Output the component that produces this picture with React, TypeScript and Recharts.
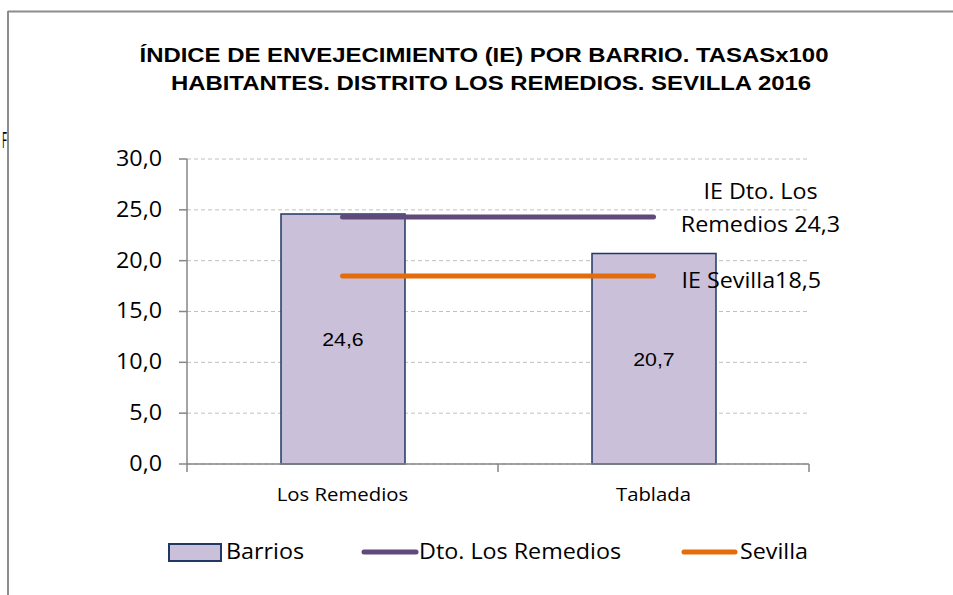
import React from "react";
import {
  Bar,
  CartesianGrid,
  ComposedChart,
  LabelList,
  Line,
  XAxis,
  YAxis
} from "recharts";

// Barrios del distrito Los Remedios, Sevilla 2016
const barrios = ["Los Remedios", "Tablada"];
const indiceBarrio = [24.6, 20.7];
const indiceDistrito = [24.3, 24.3];
const indiceSevilla = [18.5, 18.5];
const yTicks = [0, 5, 10, 15, 20, 25, 30];
const xTicks = [0, 0.5, 1, 1.5, 2];

const BAR_FILL = "#cbc0da";
const BAR_STROKE = "#1f3864";
const DTO_COLOR = "#604a7b";
const SEV_COLOR = "#e46c0a";
const AXIS_COLOR = "#868686";
const FONT = "'Open Sans', 'Noto Sans', sans-serif";
const ARIAL = "'Liberation Sans', Arial, sans-serif";

const data = barrios.map((name, i) => ({
  pos: i + 0.5,
  name,
  barrio: indiceBarrio[i],
  dto: indiceDistrito[i],
  sevilla: indiceSevilla[i]
}));

const fmt = (v: number) => v.toFixed(1).replace(".", ",");

// the reference text is a bit wider than our fonts, stretch it horizontally around x
const stretch = (x: number, k = 1.11) => `translate(${x} 0) scale(${k} 1) translate(${-x} 0)`;

function XTick(props: any) {
  const { x, y, payload } = props;
  const v = payload.value as number;
  if (Number.isInteger(v)) {
    return <line x1={x} x2={x} y1={y} y2={y + 8} stroke={AXIS_COLOR} strokeWidth={1.5} />;
  }
  const idx = Math.floor(v);
  return (
    <text x={x} y={y + 37} textAnchor="middle" fontFamily={FONT} fontSize={18} fill="#000" transform={stretch(x, 1.13)}>
      {barrios[idx]}
    </text>
  );
}

function YTick(props: any) {
  const { x, y, payload } = props;
  return (
    <text x={x} y={y + 7} textAnchor="end" fontFamily={FONT} fontSize={21} fill="#000" transform={stretch(x)}>
      {fmt(payload.value)}
    </text>
  );
}

function BarValue(props: any) {
  const { x, y, width, height, value } = props;
  const cx = x + width / 2;
  return (
    <text x={cx} y={y + height / 2 + 7} textAnchor="middle" fontFamily={ARIAL} fontSize={19} fill="#000" transform={stretch(cx, 1.12)}>
      {fmt(Number(value))}
    </text>
  );
}

function DtoLabel(props: any) {
  const { x, y, index, value } = props;
  if (index !== 1) return null;
  const cx = x + 107;
  return (
    <text x={cx} textAnchor="middle" fontFamily={FONT} fontSize={21} fill="#000" transform={stretch(cx)}>
      <tspan x={cx} y={y - 18}>IE Dto. Los</tspan>
      <tspan x={cx} y={y + 15}>{`Remedios ${fmt(value)}`}</tspan>
    </text>
  );
}

function SevillaLabel(props: any) {
  const { x, y, index, value } = props;
  if (index !== 1) return null;
  return (
    <text x={x + 28} y={y + 12} fontFamily={FONT} fontSize={21} fill="#000" transform={stretch(x + 28)}>
      {`IE Sevilla${fmt(value)}`}
    </text>
  );
}

export default function App() {
  return (
    <div style={{ position: "absolute", left: 0, top: 0, width: 953, height: 595, background: "#fff", overflow: "hidden" }}>
      <ComposedChart
        width={953}
        height={595}
        data={data}
        margin={{ top: 159, right: 144, bottom: 91, left: 107 }}
      >
        <CartesianGrid vertical={false} stroke="#c0c0c0" strokeDasharray="4 3" />
        <XAxis
          dataKey="pos"
          type="number"
          domain={[0, 2]}
          ticks={xTicks}
          interval={0}
          height={40}
          tickSize={0}
          tickMargin={0}
          tickLine={false}
          tick={<XTick />}
          axisLine={{ stroke: AXIS_COLOR, strokeWidth: 1.5 }}
        />
        <YAxis
          domain={[0, 30]}
          ticks={yTicks}
          interval={0}
          width={80}
          tickSize={8}
          tickMargin={17}
          tick={<YTick />}
          tickLine={{ stroke: AXIS_COLOR, strokeWidth: 1.5 }}
          axisLine={{ stroke: AXIS_COLOR, strokeWidth: 1.5 }}
        />
        <Bar dataKey="barrio" barSize={124} fill={BAR_FILL} stroke={BAR_STROKE} strokeWidth={1.5} isAnimationActive={false}>
          <LabelList dataKey="barrio" content={<BarValue />} />
        </Bar>
        <Line
          dataKey="dto"
          stroke={DTO_COLOR}
          strokeWidth={5}
          strokeLinecap="round"
          dot={false}
          activeDot={false}
          isAnimationActive={false}
        >
          <LabelList dataKey="dto" content={<DtoLabel />} />
        </Line>
        <Line
          dataKey="sevilla"
          stroke={SEV_COLOR}
          strokeWidth={5}
          strokeLinecap="round"
          dot={false}
          activeDot={false}
          isAnimationActive={false}
        >
          <LabelList dataKey="sevilla" content={<SevillaLabel />} />
        </Line>
      </ComposedChart>

      <svg width={953} height={595} style={{ position: "absolute", left: 0, top: 0, pointerEvents: "none" }}>
        <line x1={8} x2={953} y1={11.5} y2={11.5} stroke="#8c8c8c" strokeWidth={2} />
        <line x1={8} x2={8} y1={11} y2={595} stroke="#8c8c8c" strokeWidth={2} />
        <text x={2} y={148} fontFamily={FONT} fontSize={21} fill="#000" transform={stretch(2, 0.45)}>F</text>
        <g fontFamily={ARIAL} fontWeight="bold" fontSize={21} fill="#000" textAnchor="middle">
          <text x={484} y={62} transform={stretch(484, 1.14)}>ÍNDICE DE ENVEJECIMIENTO (IE) POR BARRIO. TASASx100</text>
          <text x={491} y={90} transform={stretch(491, 1.14)}>HABITANTES. DISTRITO LOS REMEDIOS. SEVILLA 2016</text>
        </g>
        <g fontFamily={FONT} fontSize={21} fill="#000">
          <rect x={169} y={544} width={52} height={17} fill={BAR_FILL} stroke={BAR_STROKE} strokeWidth={2} />
          <text x={226} y={559} transform={stretch(226)}>Barrios</text>
          <line x1={364} x2={416} y1={552} y2={552} stroke={DTO_COLOR} strokeWidth={5} strokeLinecap="round" />
          <text x={419} y={559} transform={stretch(419)}>Dto. Los Remedios</text>
          <line x1={684} x2={735} y1={552} y2={552} stroke={SEV_COLOR} strokeWidth={5} strokeLinecap="round" />
          <text x={740} y={559} transform={stretch(740)}>Sevilla</text>
        </g>
      </svg>
    </div>
  );
}
